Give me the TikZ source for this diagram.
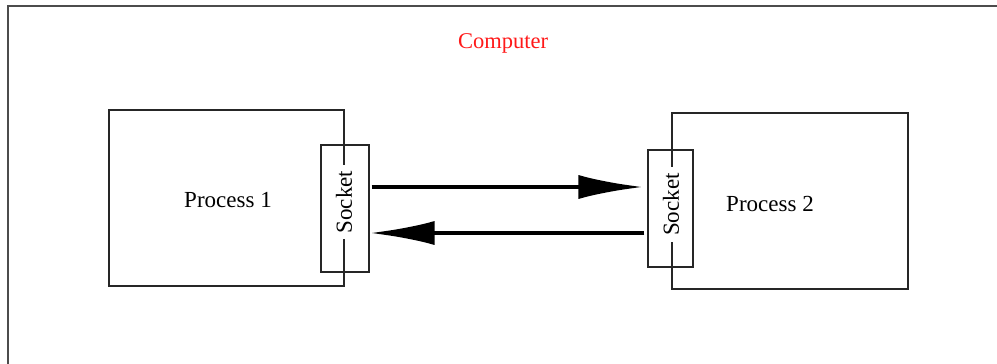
\documentclass[tikz,border=0pt]{standalone}
\usepackage{fontspec}
\setmainfont{Liberation Serif}
\usetikzlibrary{arrows.meta,calc}
\begin{document}
\begin{tikzpicture}[x=1pt,y=-1pt,
 frame/.style={draw=black!70, line width=1.8pt},
 procbox/.style={draw=black!85, line width=1.1pt, rectangle, inner sep=0pt},
 sockbox/.style={draw=black!85, line width=1.1pt, rectangle, inner sep=0pt},
 socktext/.style={fill=white, rotate=90, inner xsep=6pt, inner ysep=1pt, font=\fontsize{23}{26}\selectfont},
 lbl/.style={font=\fontsize{23}{26}\selectfont},
 bigarrow/.style={line width=4.5pt, -{Latex[length=65pt,width=24pt]}}
]
\useasboundingbox (0,0) rectangle (997,364);
% outer frame (open on right and bottom)
\coordinate (fbl) at (8,366);
\coordinate (ftl) at (8,6);
\coordinate (ftr) at (999,6);
\draw[frame] (fbl) -- (ftl) -- (ftr);
\node[font=\fontsize{22.5}{26}\selectfont, text=red!90!white] (comp) at (503,43) {Computer};
% process boxes
\node[procbox, minimum width=235pt, minimum height=176pt] (p1) at (226.5,198) {};
\node[procbox, minimum width=236pt, minimum height=176pt] (p2) at (790,201) {};
\node[lbl] (p1t) at (228,200) {Process 1};
\node[lbl] (p2t) at (770,204) {Process 2};
% sockets
\node[sockbox, minimum width=48pt, minimum height=127pt] (s1) at (345,208.5) {};
\node[sockbox, minimum width=45pt, minimum height=117pt] (s2) at (670.5,208.5) {};
\node[socktext] (s1t) at (344,202) {Socket};
\node[socktext] (s2t) at (671,204.5) {Socket};
% arrows
\draw[bigarrow, shorten <=2pt, shorten >=4pt] ([yshift=21.5pt]s1.east) -- ([yshift=21.5pt]s1.east -| s2.west);
\draw[bigarrow, shorten <=3pt, shorten >=0pt] ([yshift=-24.5pt]s2.west -| s2.west) -- ([yshift=-24.5pt]s1.east);
\end{tikzpicture}
\end{document}
